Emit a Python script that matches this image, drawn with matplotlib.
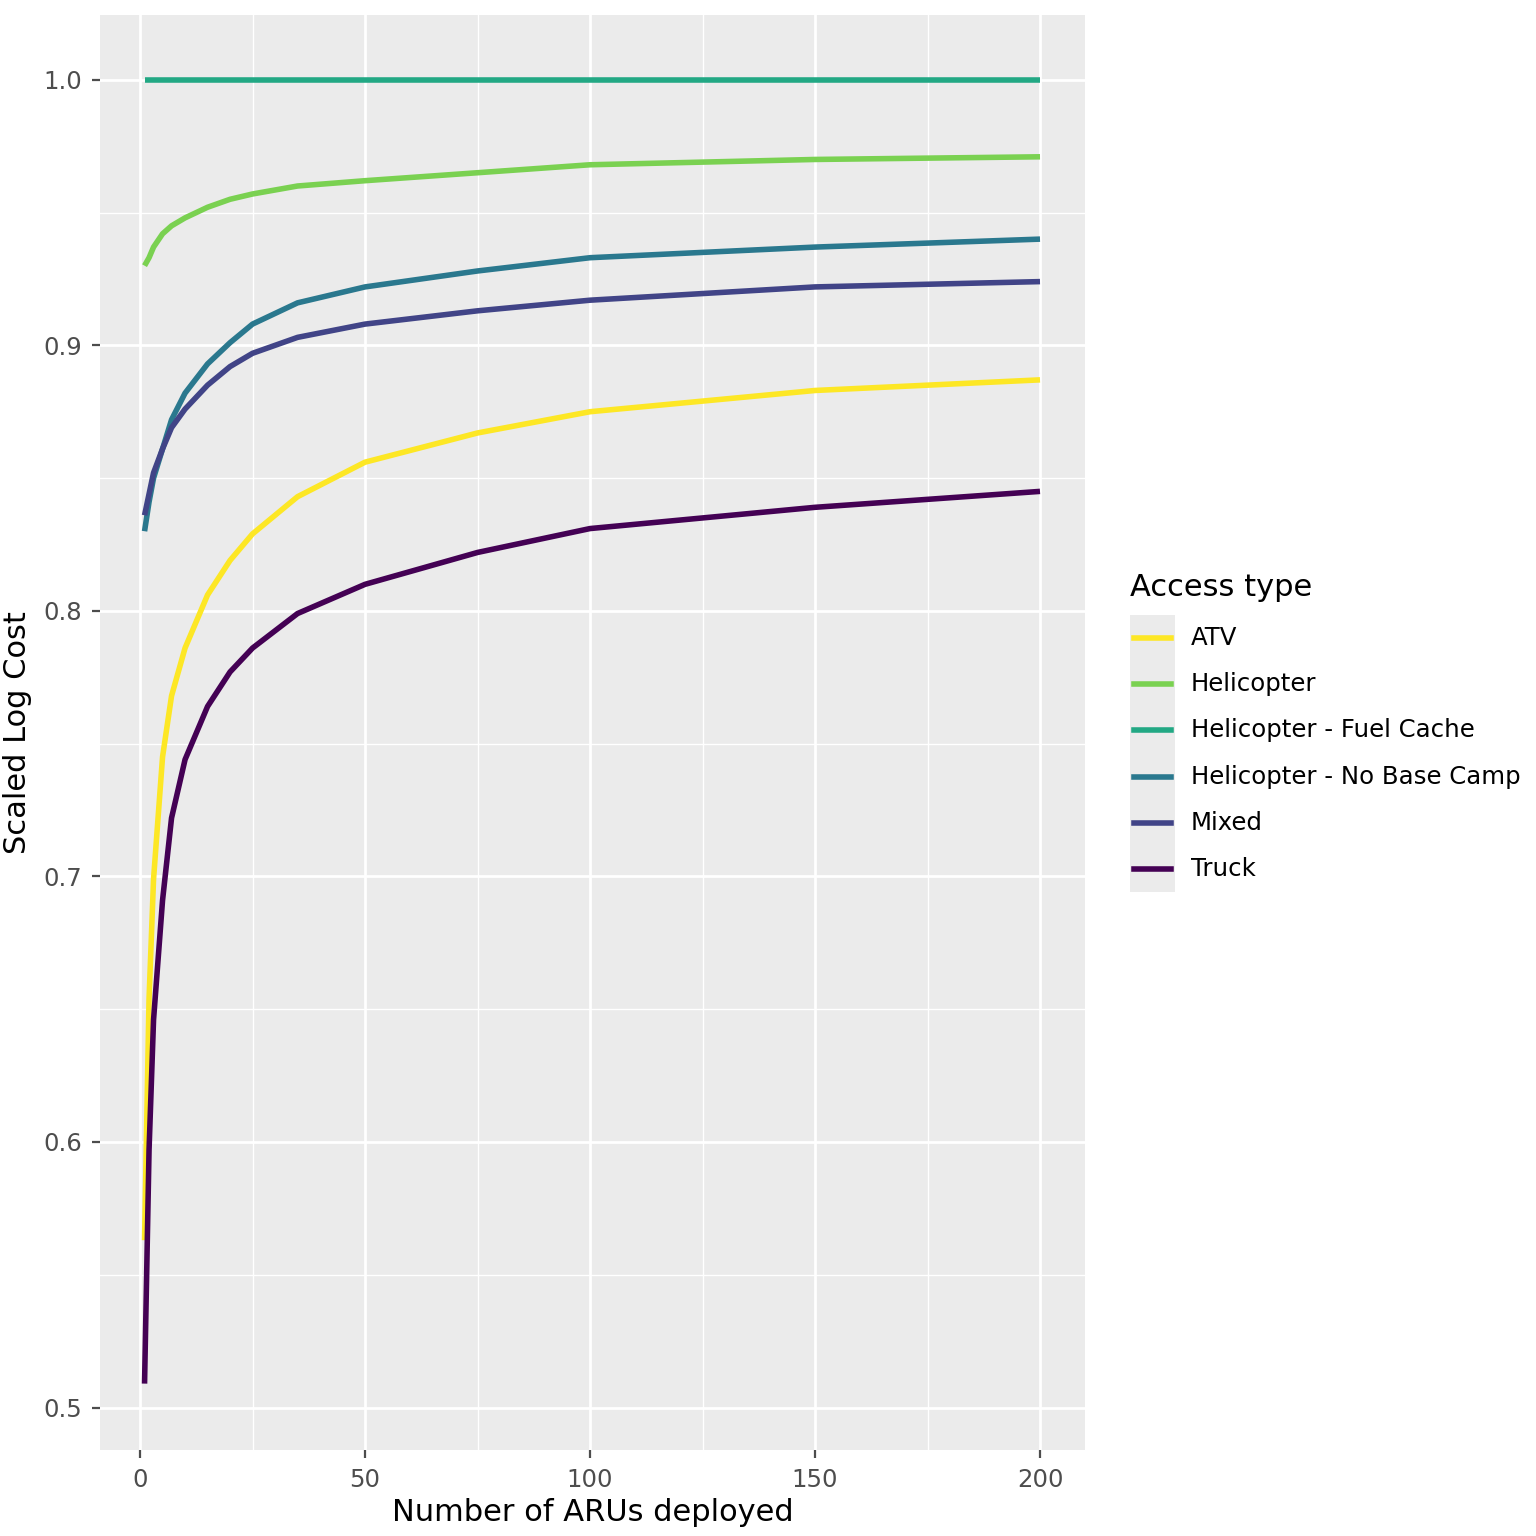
import matplotlib

matplotlib.use("Agg")
import matplotlib.pyplot as plt
from matplotlib.lines import Line2D
from matplotlib.patches import Rectangle

# values
ARUS = [1, 2, 3, 5, 7, 10, 15, 20, 25, 35, 50, 75, 100, 150, 200]
ATV = [0.563, 0.654, 0.699, 0.745, 0.768, 0.786, 0.806, 0.819, 0.829, 0.843, 0.856, 0.867, 0.875, 0.883, 0.887]
HELI = [0.930, 0.933, 0.937, 0.942, 0.945, 0.948, 0.952, 0.955, 0.957, 0.960, 0.962, 0.965, 0.968, 0.970, 0.971]
FUEL = [1.0] * len(ARUS)
NOBASE = [0.830, 0.841, 0.850, 0.861, 0.872, 0.882, 0.893, 0.901, 0.908, 0.916, 0.922, 0.928, 0.933, 0.937, 0.940]
MIXED = [0.836, 0.844, 0.852, 0.861, 0.869, 0.876, 0.885, 0.892, 0.897, 0.903, 0.908, 0.913, 0.917, 0.922, 0.924]
TRUCK = [0.509, 0.597, 0.646, 0.691, 0.722, 0.744, 0.764, 0.777, 0.786, 0.799, 0.810, 0.822, 0.831, 0.839, 0.845]

LABELS = ["ATV", "Helicopter", "Helicopter - Fuel Cache", "Helicopter - No Base Camp", "Mixed", "Truck"]
SERIES = [ATV, HELI, FUEL, NOBASE, MIXED, TRUCK]
COLORS = ["#FDE725", "#7AD151", "#22A884", "#2A788E", "#414487", "#440154"]

W = 1536
fig = plt.figure(figsize=(7.68, 7.68), dpi=200)
ax = fig.add_axes([100 / W, 1 - 1450 / W, 985 / W, 1435 / W])
ax.set_facecolor("#EBEBEB")
for s in ax.spines.values():
    s.set_visible(False)
ax.set_xlim(-8.9, 210)
ax.set_ylim(0.484, 1.0244)
ax.set_xticks([0, 50, 100, 150, 200])
ax.set_yticks([0.5, 0.6, 0.7, 0.8, 0.9, 1.0])
ax.set_yticklabels(["0.5", "0.6", "0.7", "0.8", "0.9", "1.0"])
ax.set_xticks([25, 75, 125, 175], minor=True)
ax.set_yticks([0.55, 0.65, 0.75, 0.85, 0.95], minor=True)
ax.grid(which="major", color="white", lw=1.0)
ax.grid(which="minor", color="white", lw=0.5)
ax.set_axisbelow(True)
ax.tick_params(which="major", colors="#4D4D4D", labelsize=8.8, length=3, width=0.8)
ax.tick_params(which="minor", length=0)
ax.set_xlabel("Number of ARUs deployed", fontsize=11, labelpad=2)
ax.set_ylabel("Scaled Log Cost", fontsize=11, labelpad=4)

for vals, c in zip(SERIES, COLORS):
    ax.plot(ARUS, vals, color=c, lw=2.0, solid_capstyle="butt")

# legend drawn by hand, ggplot style
fig.text(1130 / W, 1 - 588 / W, "Access type", fontsize=11, va="center")
fig.add_artist(Rectangle((1130 / W, 1 - 892 / W), 45 / W, 277 / W,
                         transform=fig.transFigure, facecolor="#EBEBEB", edgecolor="none"))
for i, (lab, c) in enumerate(zip(LABELS, COLORS)):
    y = 1 - (638 + 46.2 * i) / W
    fig.add_artist(Line2D([1134 / W, 1171 / W], [y, y], transform=fig.transFigure,
                          color=c, lw=2.0))
    fig.text(1191 / W, y, lab, fontsize=8.8, va="center")

fig.savefig("out.png", dpi=200)
